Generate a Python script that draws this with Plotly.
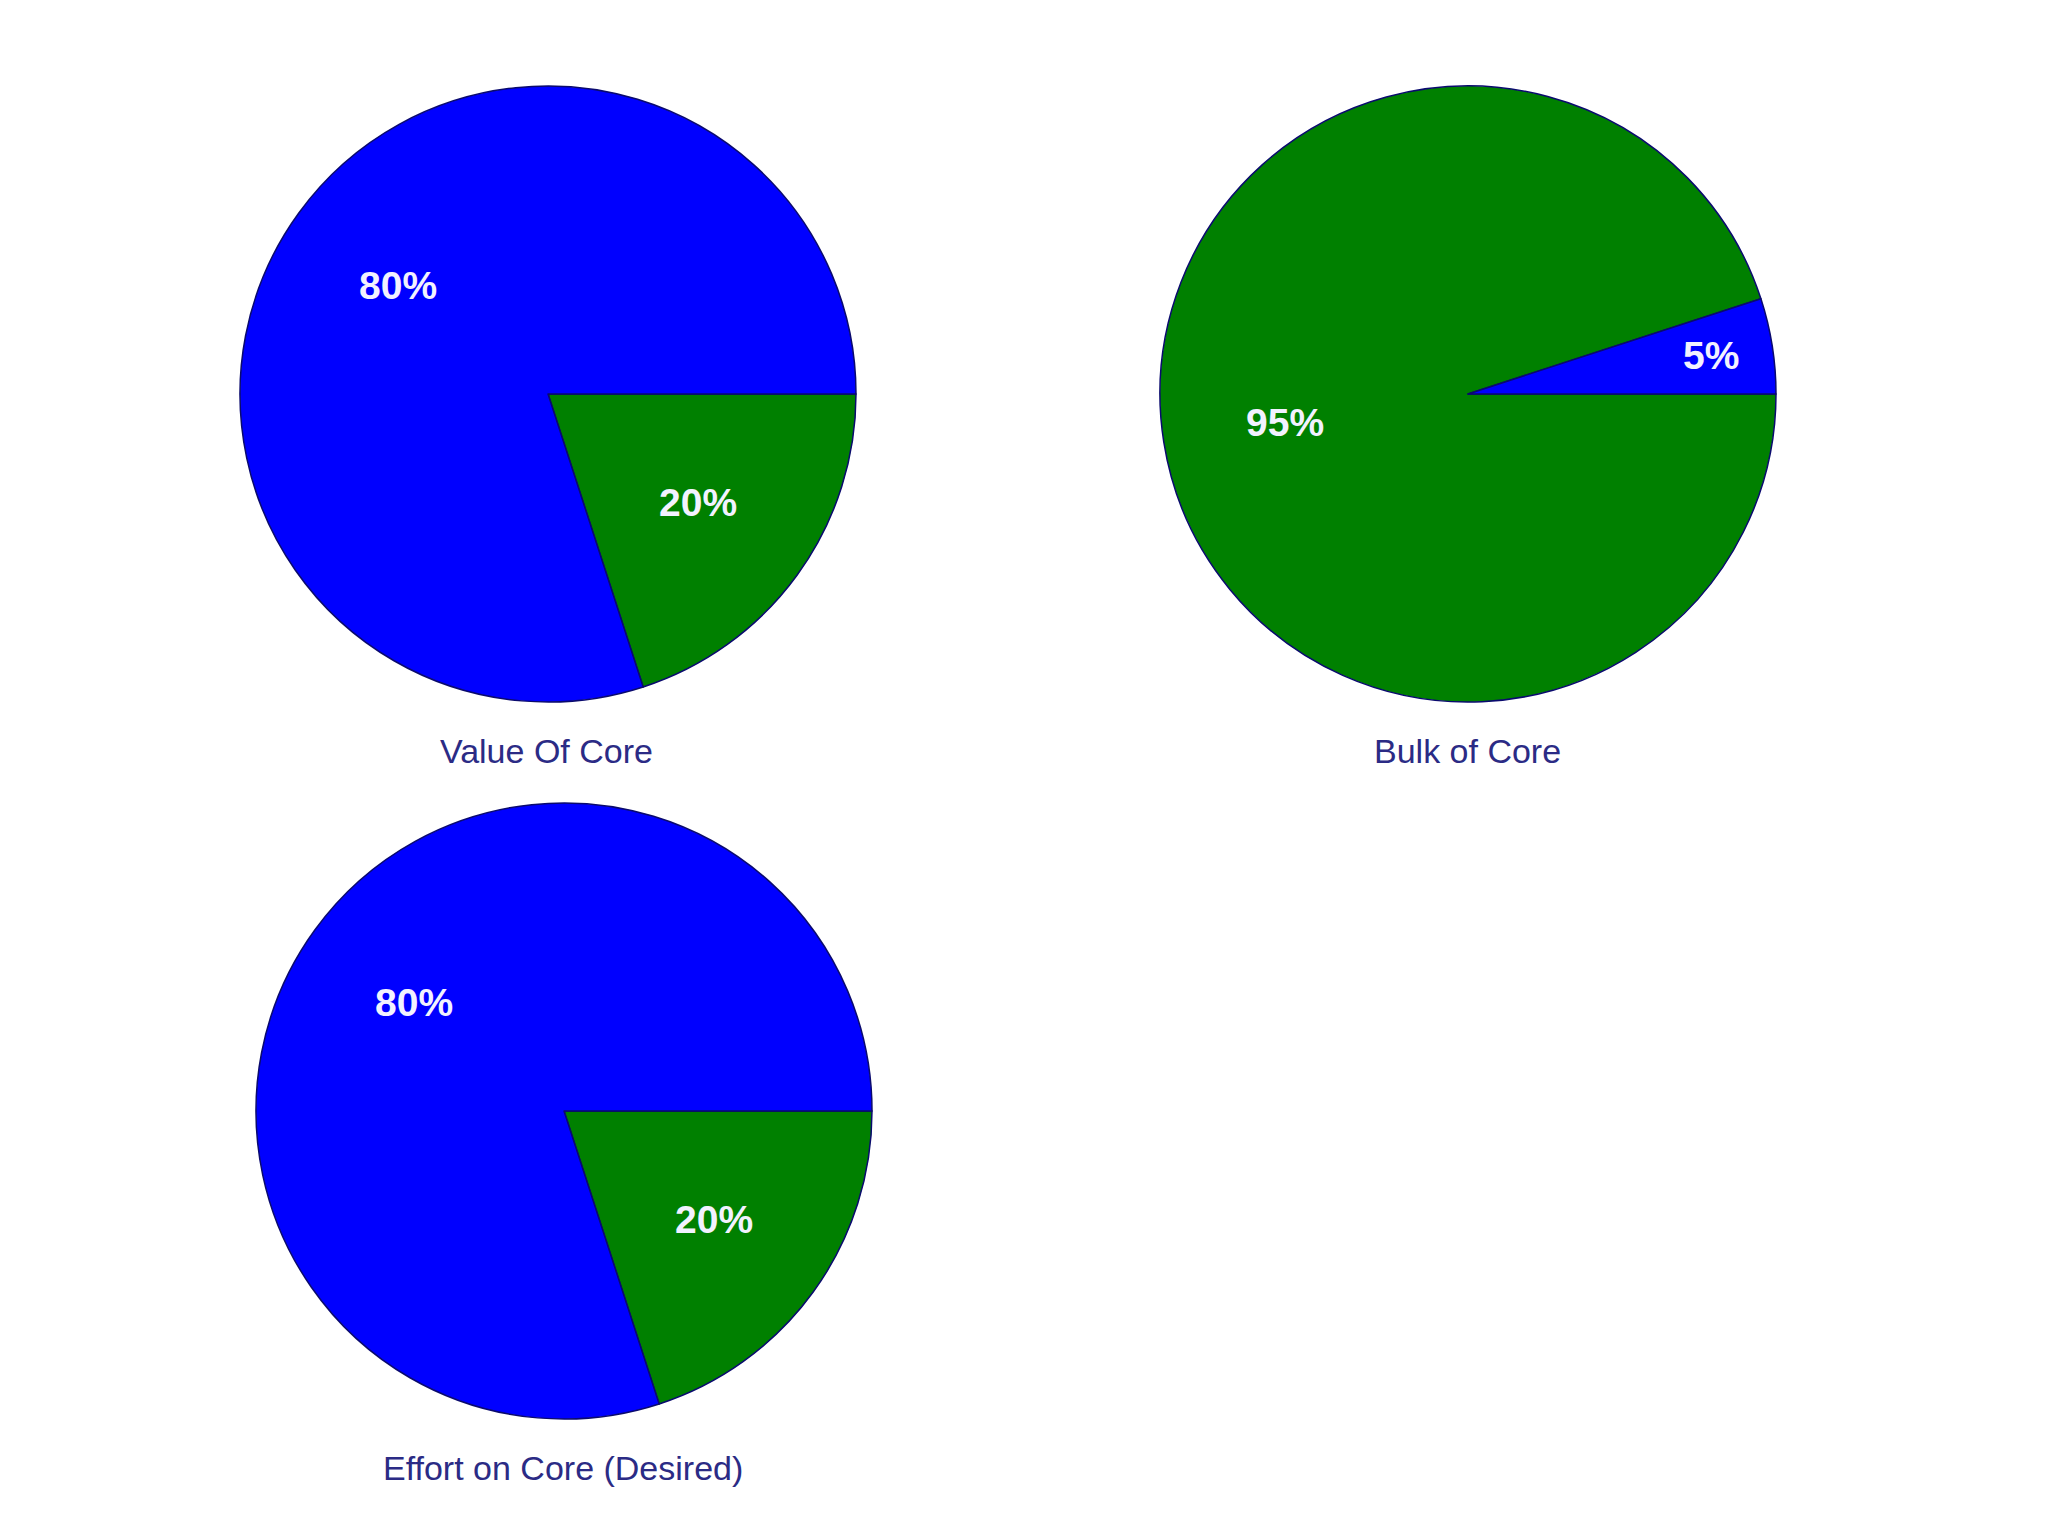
import math

import plotly.graph_objects as go


# ==========================================
# DATA
# ==========================================

value_labels = ["Core", "Rest"]
value_share = [20, 80]

bulk_labels = ["Rest", "Core"]
bulk_share = [95, 5]

effort_labels = ["Core", "Rest"]
effort_share = [20, 80]

titles = ["Value Of Core", "Bulk of Core", "Effort on Core (Desired)"]

BLUE = "#0000FF"
GREEN = "#008000"
EDGE = "#0a0a6e"

W, H = 2048, 1536
OFFSET = 8          # page body margin
RADIUS = 308


# ==========================================
# HELPERS
# ==========================================

def px_x(x):
    return (x - OFFSET) / W


def px_y(y):
    return 1 - (y - OFFSET) / H


def make_pie(labels, values, colors, center):

    cx, cy = center

    return go.Pie(
        labels=labels,
        values=values,
        sort=False,
        direction="clockwise",
        rotation=90,
        textinfo="none",
        marker=dict(
            colors=colors,
            line=dict(color=EDGE, width=1.5)
        ),
        hoverinfo="label+percent",
        showlegend=False,
        domain=dict(
            x=[px_x(cx - RADIUS), px_x(cx + RADIUS)],
            y=[px_y(cy + RADIUS), px_y(cy - RADIUS)]
        )
    )


def add_percent_labels(fig, values, center):

    # place each percentage along its slice's bisector
    cx, cy = center
    total = sum(values)
    start = 0

    for v in values:

        mid = (start + v / 2) / total
        start += v

        angle = -mid * 2 * math.pi
        frac = 0.8 if v / total < 0.1 else 0.6

        fig.add_annotation(
            text=f"{round(100 * v / total)}%",
            x=px_x(cx + RADIUS * frac * math.cos(angle)),
            y=px_y(cy - RADIUS * frac * math.sin(angle)),
            xref="paper",
            yref="paper",
            xanchor="center",
            yanchor="middle",
            showarrow=False,
            font=dict(
                family="Liberation Sans, Arial",
                size=39,
                color="#f2f2ff",
                weight="bold"
            )
        )


# ==========================================
# FIGURE
# ==========================================

centers = [(548, 394), (1468, 394), (564, 1111)]
title_pos = [(546, 751), (1467, 751), (563, 1468)]

pies = [
    (value_labels, value_share, [GREEN, BLUE]),
    (bulk_labels, bulk_share, [GREEN, BLUE]),
    (effort_labels, effort_share, [GREEN, BLUE]),
]

fig = go.Figure()

for (labels, values, colors), center in zip(pies, centers):

    fig.add_trace(make_pie(labels, values, colors, center))

    add_percent_labels(fig, values, center)

# titles under each pie
for text, (x, y) in zip(titles, title_pos):

    fig.add_annotation(
        text=text,
        x=px_x(x),
        y=px_y(y),
        xref="paper",
        yref="paper",
        xanchor="center",
        yanchor="middle",
        showarrow=False,
        font=dict(
            family="Liberation Sans, Arial",
            size=34,
            color="#2b2b85"
        )
    )

fig.update_layout(
    width=W,
    height=H,
    margin=dict(l=0, r=0, t=0, b=0),
    paper_bgcolor="white",
    plot_bgcolor="white"
)

fig.write_html("out.html")
